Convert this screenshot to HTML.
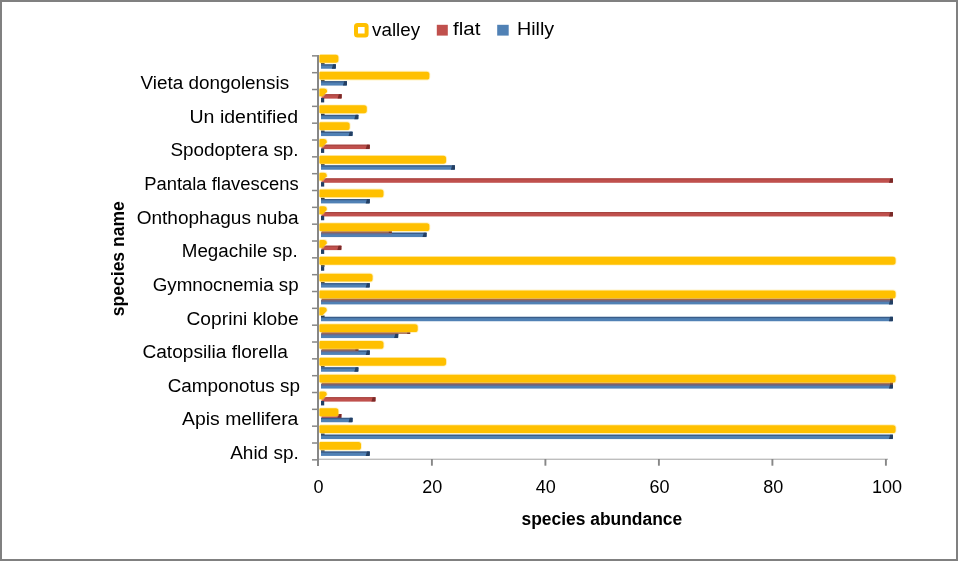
<!DOCTYPE html>
<html><head><meta charset="utf-8"><style>
html,body{margin:0;padding:0;background:#fff;}
#c{position:relative;width:958px;height:561px;overflow:hidden;background:#fff;}
svg{position:absolute;left:0;top:0;will-change:transform;}
.lab{font-family:"Liberation Sans",sans-serif;font-size:18px;fill:#000;}
.ttl{font-family:"Liberation Sans",sans-serif;font-size:17.6px;font-weight:bold;fill:#000;}
</style></head><body><div id="c">
<svg width="958" height="561" viewBox="0 0 958 561">
<rect x="0" y="0" width="958" height="561" fill="#fff"/>
<rect x="312" y="55.1" width="6" height="1.5" fill="#878787"/>
<rect x="312" y="71.93" width="6" height="1.5" fill="#878787"/>
<rect x="312" y="88.77" width="6" height="1.5" fill="#878787"/>
<rect x="312" y="105.6" width="6" height="1.5" fill="#878787"/>
<rect x="312" y="122.43" width="6" height="1.5" fill="#878787"/>
<rect x="312" y="139.26" width="6" height="1.5" fill="#878787"/>
<rect x="312" y="156.1" width="6" height="1.5" fill="#878787"/>
<rect x="312" y="172.93" width="6" height="1.5" fill="#878787"/>
<rect x="312" y="189.76" width="6" height="1.5" fill="#878787"/>
<rect x="312" y="206.6" width="6" height="1.5" fill="#878787"/>
<rect x="312" y="223.43" width="6" height="1.5" fill="#878787"/>
<rect x="312" y="240.26" width="6" height="1.5" fill="#878787"/>
<rect x="312" y="257.1" width="6" height="1.5" fill="#878787"/>
<rect x="312" y="273.93" width="6" height="1.5" fill="#878787"/>
<rect x="312" y="290.76" width="6" height="1.5" fill="#878787"/>
<rect x="312" y="307.59" width="6" height="1.5" fill="#878787"/>
<rect x="312" y="324.43" width="6" height="1.5" fill="#878787"/>
<rect x="312" y="341.26" width="6" height="1.5" fill="#878787"/>
<rect x="312" y="358.09" width="6" height="1.5" fill="#878787"/>
<rect x="312" y="374.93" width="6" height="1.5" fill="#878787"/>
<rect x="312" y="391.76" width="6" height="1.5" fill="#878787"/>
<rect x="312" y="408.59" width="6" height="1.5" fill="#878787"/>
<rect x="312" y="425.43" width="6" height="1.5" fill="#878787"/>
<rect x="312" y="442.26" width="6" height="1.5" fill="#878787"/>
<rect x="312" y="459.09" width="6" height="1.5" fill="#878787"/>
<rect x="321" y="63.05" width="3.6" height="1.6" fill="#2a2a2a"/>
<rect x="321" y="64.35" width="14.9" height="4.4" fill="#5081B5"/>
<rect x="321" y="64.35" width="14.9" height="1.3" fill="#3A5C88"/>
<path d="M333.1,64.35 L335.3,64.35 Q335.9,64.35 335.9,65.15 L335.9,67.75 Q335.9,68.75 334.9,68.75 L331.8,68.75 Z" fill="#233F63"/>
<path d="M320.9,53.95 L335.8,53.95 Q339.3,53.95 339.3,57.45 L339.3,60.05 Q339.3,63.55 335.8,63.55 L320.9,63.55 Q319.4,63.55 319.4,62.05 L319.4,55.45 Q319.4,53.95 320.9,53.95 Z" fill="#FFE27A" opacity="0.45"/>
<path d="M320.4,54.85 L335.8,54.85 Q338.4,54.85 338.4,57.45 L338.4,60.05 Q338.4,62.65 335.8,62.65 L320.4,62.65 Q319.4,62.65 319.4,61.65 L319.4,55.85 Q319.4,54.85 320.4,54.85 Z" fill="#FFC000"/>
<rect x="321" y="79.88" width="3.6" height="1.6" fill="#2a2a2a"/>
<rect x="321" y="81.18" width="26" height="4.4" fill="#5081B5"/>
<rect x="321" y="81.18" width="26" height="1.3" fill="#3A5C88"/>
<path d="M344.2,81.18 L346.4,81.18 Q347,81.18 347,81.98 L347,84.58 Q347,85.58 346,85.58 L342.9,85.58 Z" fill="#233F63"/>
<path d="M320.9,70.78 L426.8,70.78 Q430.3,70.78 430.3,74.28 L430.3,76.88 Q430.3,80.38 426.8,80.38 L320.9,80.38 Q319.4,80.38 319.4,78.88 L319.4,72.28 Q319.4,70.78 320.9,70.78 Z" fill="#FFE27A" opacity="0.45"/>
<path d="M320.4,71.68 L426.8,71.68 Q429.4,71.68 429.4,74.28 L429.4,76.88 Q429.4,79.48 426.8,79.48 L320.4,79.48 Q319.4,79.48 319.4,78.48 L319.4,72.68 Q319.4,71.68 320.4,71.68 Z" fill="#FFC000"/>
<rect x="321.5" y="94.22" width="20.2" height="4.4" fill="#C0504D"/>
<rect x="321.5" y="94.22" width="20.2" height="1.1" fill="#A6443F"/>
<path d="M338.9,94.22 L341.1,94.22 Q341.7,94.22 341.7,95.02 L341.7,97.62 Q341.7,98.62 340.7,98.62 L337.6,98.62 Z" fill="#7A2A28"/>
<rect x="321" y="98.02" width="3.2" height="4.4" fill="#233F63"/>
<path d="M319.13,88.62 Q319.13,87.62 320.9,87.62 L324,87.62 Q327.9,87.62 327.9,91.02 L327.9,92.12 L323.05,97.22 L319.13,97.22 Z" fill="#FFE27A" opacity="0.45"/>
<path d="M319.4,89.52 Q319.4,88.52 320.9,88.52 L324,88.52 Q327,88.52 327,91.02 L327,92.12 L322.6,96.32 L319.4,96.32 Z" fill="#FFC000"/>
<rect x="321" y="113.55" width="3.6" height="1.6" fill="#2a2a2a"/>
<rect x="321" y="114.85" width="37.4" height="4.4" fill="#5081B5"/>
<rect x="321" y="114.85" width="37.4" height="1.3" fill="#3A5C88"/>
<path d="M355.6,114.85 L357.8,114.85 Q358.4,114.85 358.4,115.65 L358.4,118.25 Q358.4,119.25 357.4,119.25 L354.3,119.25 Z" fill="#233F63"/>
<path d="M320.9,104.45 L364.2,104.45 Q367.7,104.45 367.7,107.95 L367.7,110.55 Q367.7,114.05 364.2,114.05 L320.9,114.05 Q319.4,114.05 319.4,112.55 L319.4,105.95 Q319.4,104.45 320.9,104.45 Z" fill="#FFE27A" opacity="0.45"/>
<path d="M320.4,105.35 L364.2,105.35 Q366.8,105.35 366.8,107.95 L366.8,110.55 Q366.8,113.15 364.2,113.15 L320.4,113.15 Q319.4,113.15 319.4,112.15 L319.4,106.35 Q319.4,105.35 320.4,105.35 Z" fill="#FFC000"/>
<rect x="321" y="130.38" width="3.6" height="1.6" fill="#2a2a2a"/>
<rect x="321" y="131.68" width="31.6" height="4.4" fill="#5081B5"/>
<rect x="321" y="131.68" width="31.6" height="1.3" fill="#3A5C88"/>
<path d="M349.8,131.68 L352,131.68 Q352.6,131.68 352.6,132.48 L352.6,135.08 Q352.6,136.08 351.6,136.08 L348.5,136.08 Z" fill="#233F63"/>
<path d="M320.9,121.28 L347.1,121.28 Q350.6,121.28 350.6,124.78 L350.6,127.38 Q350.6,130.88 347.1,130.88 L320.9,130.88 Q319.4,130.88 319.4,129.38 L319.4,122.78 Q319.4,121.28 320.9,121.28 Z" fill="#FFE27A" opacity="0.45"/>
<path d="M320.4,122.18 L347.1,122.18 Q349.7,122.18 349.7,124.78 L349.7,127.38 Q349.7,129.98 347.1,129.98 L320.4,129.98 Q319.4,129.98 319.4,128.98 L319.4,123.18 Q319.4,122.18 320.4,122.18 Z" fill="#FFC000"/>
<rect x="321.5" y="144.71" width="48.3" height="4.4" fill="#C0504D"/>
<rect x="321.5" y="144.71" width="48.3" height="1.1" fill="#A6443F"/>
<path d="M367,144.71 L369.2,144.71 Q369.8,144.71 369.8,145.51 L369.8,148.11 Q369.8,149.11 368.8,149.11 L365.7,149.11 Z" fill="#7A2A28"/>
<rect x="321" y="148.51" width="3.2" height="4.4" fill="#233F63"/>
<path d="M319.13,139.11 Q319.13,138.11 320.9,138.11 L323.7,138.11 Q327.6,138.11 327.6,141.51 L327.6,142.61 L323.05,147.72 L319.13,147.72 Z" fill="#FFE27A" opacity="0.45"/>
<path d="M319.4,140.01 Q319.4,139.01 320.9,139.01 L323.7,139.01 Q326.7,139.01 326.7,141.51 L326.7,142.61 L322.6,146.81 L319.4,146.81 Z" fill="#FFC000"/>
<rect x="321" y="164.05" width="3.6" height="1.6" fill="#2a2a2a"/>
<rect x="321" y="165.35" width="134" height="4.4" fill="#5081B5"/>
<rect x="321" y="165.35" width="134" height="1.3" fill="#3A5C88"/>
<path d="M452.2,165.35 L454.4,165.35 Q455,165.35 455,166.15 L455,168.75 Q455,169.75 454,169.75 L450.9,169.75 Z" fill="#233F63"/>
<path d="M320.9,154.95 L443.5,154.95 Q447,154.95 447,158.45 L447,161.05 Q447,164.55 443.5,164.55 L320.9,164.55 Q319.4,164.55 319.4,163.05 L319.4,156.45 Q319.4,154.95 320.9,154.95 Z" fill="#FFE27A" opacity="0.45"/>
<path d="M320.4,155.85 L443.5,155.85 Q446.1,155.85 446.1,158.45 L446.1,161.05 Q446.1,163.65 443.5,163.65 L320.4,163.65 Q319.4,163.65 319.4,162.65 L319.4,156.85 Q319.4,155.85 320.4,155.85 Z" fill="#FFC000"/>
<rect x="321.5" y="178.38" width="571.5" height="4.4" fill="#C0504D"/>
<rect x="321.5" y="178.38" width="571.5" height="1.1" fill="#A6443F"/>
<path d="M890.2,178.38 L892.4,178.38 Q893,178.38 893,179.18 L893,181.78 Q893,182.78 892,182.78 L888.9,182.78 Z" fill="#7A2A28"/>
<rect x="321" y="182.18" width="3.2" height="4.4" fill="#233F63"/>
<path d="M319.13,172.78 Q319.13,171.78 320.9,171.78 L323.7,171.78 Q327.6,171.78 327.6,175.18 L327.6,176.28 L323.05,181.38 L319.13,181.38 Z" fill="#FFE27A" opacity="0.45"/>
<path d="M319.4,173.68 Q319.4,172.68 320.9,172.68 L323.7,172.68 Q326.7,172.68 326.7,175.18 L326.7,176.28 L322.6,180.48 L319.4,180.48 Z" fill="#FFC000"/>
<rect x="321" y="197.71" width="3.6" height="1.6" fill="#2a2a2a"/>
<rect x="321" y="199.01" width="48.8" height="4.4" fill="#5081B5"/>
<rect x="321" y="199.01" width="48.8" height="1.3" fill="#3A5C88"/>
<path d="M367,199.01 L369.2,199.01 Q369.8,199.01 369.8,199.81 L369.8,202.41 Q369.8,203.41 368.8,203.41 L365.7,203.41 Z" fill="#233F63"/>
<path d="M320.9,188.61 L380.9,188.61 Q384.4,188.61 384.4,192.11 L384.4,194.71 Q384.4,198.21 380.9,198.21 L320.9,198.21 Q319.4,198.21 319.4,196.71 L319.4,190.11 Q319.4,188.61 320.9,188.61 Z" fill="#FFE27A" opacity="0.45"/>
<path d="M320.4,189.51 L380.9,189.51 Q383.5,189.51 383.5,192.11 L383.5,194.71 Q383.5,197.31 380.9,197.31 L320.4,197.31 Q319.4,197.31 319.4,196.31 L319.4,190.51 Q319.4,189.51 320.4,189.51 Z" fill="#FFC000"/>
<rect x="321.5" y="212.05" width="571.5" height="4.4" fill="#C0504D"/>
<rect x="321.5" y="212.05" width="571.5" height="1.1" fill="#A6443F"/>
<path d="M890.2,212.05 L892.4,212.05 Q893,212.05 893,212.85 L893,215.45 Q893,216.45 892,216.45 L888.9,216.45 Z" fill="#7A2A28"/>
<rect x="321" y="215.85" width="3.2" height="4.4" fill="#233F63"/>
<path d="M319.13,206.45 Q319.13,205.45 320.9,205.45 L323.7,205.45 Q327.6,205.45 327.6,208.85 L327.6,209.95 L323.05,215.05 L319.13,215.05 Z" fill="#FFE27A" opacity="0.45"/>
<path d="M319.4,207.35 Q319.4,206.35 320.9,206.35 L323.7,206.35 Q326.7,206.35 326.7,208.85 L326.7,209.95 L322.6,214.15 L319.4,214.15 Z" fill="#FFC000"/>
<rect x="321" y="232.68" width="105.6" height="4.4" fill="#5081B5"/>
<rect x="321" y="232.68" width="105.6" height="1.3" fill="#3A5C88"/>
<rect x="321" y="232.68" width="70.8" height="1.7" fill="#6C6A8A"/>
<path d="M423.8,232.68 L426,232.68 Q426.6,232.68 426.6,233.48 L426.6,236.08 Q426.6,237.08 425.6,237.08 L422.5,237.08 Z" fill="#233F63"/>
<rect x="321.5" y="230.98" width="70.3" height="1.8" fill="#9E5A3A"/>
<rect x="388.8" y="230.98" width="3" height="1.8" fill="#6A2C22"/>
<path d="M320.9,222.28 L426.8,222.28 Q430.3,222.28 430.3,225.78 L430.3,228.38 Q430.3,231.88 426.8,231.88 L320.9,231.88 Q319.4,231.88 319.4,230.38 L319.4,223.78 Q319.4,222.28 320.9,222.28 Z" fill="#FFE27A" opacity="0.45"/>
<path d="M320.4,223.18 L426.8,223.18 Q429.4,223.18 429.4,225.78 L429.4,228.38 Q429.4,230.98 426.8,230.98 L320.4,230.98 Q319.4,230.98 319.4,229.98 L319.4,224.18 Q319.4,223.18 320.4,223.18 Z" fill="#FFC000"/>
<rect x="321.5" y="245.71" width="19.9" height="4.4" fill="#C0504D"/>
<rect x="321.5" y="245.71" width="19.9" height="1.1" fill="#A6443F"/>
<path d="M338.6,245.71 L340.8,245.71 Q341.4,245.71 341.4,246.51 L341.4,249.11 Q341.4,250.11 340.4,250.11 L337.3,250.11 Z" fill="#7A2A28"/>
<rect x="321" y="249.51" width="3.2" height="4.4" fill="#233F63"/>
<path d="M319.13,240.11 Q319.13,239.11 320.9,239.11 L323.7,239.11 Q327.6,239.11 327.6,242.51 L327.6,243.61 L323.05,248.71 L319.13,248.71 Z" fill="#FFE27A" opacity="0.45"/>
<path d="M319.4,241.01 Q319.4,240.01 320.9,240.01 L323.7,240.01 Q326.7,240.01 326.7,242.51 L326.7,243.61 L322.6,247.81 L319.4,247.81 Z" fill="#FFC000"/>
<rect x="321" y="265.05" width="3.6" height="1.6" fill="#2a2a2a"/>
<rect x="321" y="266.35" width="3.2" height="4.4" fill="#233F63"/>
<path d="M320.9,255.95 L893,255.95 Q896.5,255.95 896.5,259.45 L896.5,262.05 Q896.5,265.55 893,265.55 L320.9,265.55 Q319.4,265.55 319.4,264.05 L319.4,257.45 Q319.4,255.95 320.9,255.95 Z" fill="#FFE27A" opacity="0.45"/>
<path d="M320.4,256.85 L893,256.85 Q895.6,256.85 895.6,259.45 L895.6,262.05 Q895.6,264.65 893,264.65 L320.4,264.65 Q319.4,264.65 319.4,263.65 L319.4,257.85 Q319.4,256.85 320.4,256.85 Z" fill="#FFC000"/>
<rect x="321" y="281.88" width="3.6" height="1.6" fill="#2a2a2a"/>
<rect x="321" y="283.18" width="48.8" height="4.4" fill="#5081B5"/>
<rect x="321" y="283.18" width="48.8" height="1.3" fill="#3A5C88"/>
<path d="M367,283.18 L369.2,283.18 Q369.8,283.18 369.8,283.98 L369.8,286.58 Q369.8,287.58 368.8,287.58 L365.7,287.58 Z" fill="#233F63"/>
<path d="M320.9,272.78 L370,272.78 Q373.5,272.78 373.5,276.28 L373.5,278.88 Q373.5,282.38 370,282.38 L320.9,282.38 Q319.4,282.38 319.4,280.88 L319.4,274.28 Q319.4,272.78 320.9,272.78 Z" fill="#FFE27A" opacity="0.45"/>
<path d="M320.4,273.68 L370,273.68 Q372.6,273.68 372.6,276.28 L372.6,278.88 Q372.6,281.48 370,281.48 L320.4,281.48 Q319.4,281.48 319.4,280.48 L319.4,274.68 Q319.4,273.68 320.4,273.68 Z" fill="#FFC000"/>
<rect x="321" y="300.01" width="572" height="4.4" fill="#5081B5"/>
<rect x="321" y="300.01" width="572" height="1.3" fill="#3A5C88"/>
<rect x="321" y="300.01" width="572" height="1.7" fill="#6C6A8A"/>
<path d="M890.2,300.01 L892.4,300.01 Q893,300.01 893,300.81 L893,303.41 Q893,304.41 892,304.41 L888.9,304.41 Z" fill="#233F63"/>
<rect x="321.5" y="298.31" width="571.5" height="1.8" fill="#9E5A3A"/>
<rect x="890" y="298.31" width="3" height="1.8" fill="#6A2C22"/>
<path d="M320.9,289.61 L893,289.61 Q896.5,289.61 896.5,293.11 L896.5,295.71 Q896.5,299.21 893,299.21 L320.9,299.21 Q319.4,299.21 319.4,297.71 L319.4,291.11 Q319.4,289.61 320.9,289.61 Z" fill="#FFE27A" opacity="0.45"/>
<path d="M320.4,290.51 L893,290.51 Q895.6,290.51 895.6,293.11 L895.6,295.71 Q895.6,298.31 893,298.31 L320.4,298.31 Q319.4,298.31 319.4,297.31 L319.4,291.51 Q319.4,290.51 320.4,290.51 Z" fill="#FFC000"/>
<rect x="321" y="315.54" width="3.6" height="1.6" fill="#2a2a2a"/>
<rect x="321" y="316.84" width="572" height="4.4" fill="#5081B5"/>
<rect x="321" y="316.84" width="572" height="1.3" fill="#3A5C88"/>
<path d="M890.2,316.84 L892.4,316.84 Q893,316.84 893,317.64 L893,320.24 Q893,321.24 892,321.24 L888.9,321.24 Z" fill="#233F63"/>
<path d="M319.13,307.44 Q319.13,306.44 320.9,306.44 L323.7,306.44 Q327.6,306.44 327.6,309.84 L327.6,310.94 L323.05,316.04 L319.13,316.04 Z" fill="#FFE27A" opacity="0.45"/>
<path d="M319.4,308.34 Q319.4,307.34 320.9,307.34 L323.7,307.34 Q326.7,307.34 326.7,309.84 L326.7,310.94 L322.6,315.14 L319.4,315.14 Z" fill="#FFC000"/>
<rect x="321" y="333.68" width="77.2" height="4.4" fill="#5081B5"/>
<rect x="321" y="333.68" width="77.2" height="1.3" fill="#3A5C88"/>
<rect x="321" y="333.68" width="77.2" height="1.7" fill="#6C6A8A"/>
<path d="M395.4,333.68 L397.6,333.68 Q398.2,333.68 398.2,334.48 L398.2,337.08 Q398.2,338.08 397.2,338.08 L394.1,338.08 Z" fill="#233F63"/>
<rect x="321.5" y="331.98" width="88.7" height="1.8" fill="#9E5A3A"/>
<rect x="407.2" y="331.98" width="3" height="1.8" fill="#6A2C22"/>
<path d="M320.9,323.28 L415.1,323.28 Q418.6,323.28 418.6,326.78 L418.6,329.38 Q418.6,332.88 415.1,332.88 L320.9,332.88 Q319.4,332.88 319.4,331.38 L319.4,324.78 Q319.4,323.28 320.9,323.28 Z" fill="#FFE27A" opacity="0.45"/>
<path d="M320.4,324.18 L415.1,324.18 Q417.7,324.18 417.7,326.78 L417.7,329.38 Q417.7,331.98 415.1,331.98 L320.4,331.98 Q319.4,331.98 319.4,330.98 L319.4,325.18 Q319.4,324.18 320.4,324.18 Z" fill="#FFC000"/>
<rect x="321" y="350.51" width="48.8" height="4.4" fill="#5081B5"/>
<rect x="321" y="350.51" width="48.8" height="1.3" fill="#3A5C88"/>
<rect x="321" y="350.51" width="37.4" height="1.7" fill="#6C6A8A"/>
<path d="M367,350.51 L369.2,350.51 Q369.8,350.51 369.8,351.31 L369.8,353.91 Q369.8,354.91 368.8,354.91 L365.7,354.91 Z" fill="#233F63"/>
<rect x="321.5" y="348.81" width="36.9" height="1.8" fill="#9E5A3A"/>
<rect x="355.4" y="348.81" width="3" height="1.8" fill="#6A2C22"/>
<path d="M320.9,340.11 L380.9,340.11 Q384.4,340.11 384.4,343.61 L384.4,346.21 Q384.4,349.71 380.9,349.71 L320.9,349.71 Q319.4,349.71 319.4,348.21 L319.4,341.61 Q319.4,340.11 320.9,340.11 Z" fill="#FFE27A" opacity="0.45"/>
<path d="M320.4,341.01 L380.9,341.01 Q383.5,341.01 383.5,343.61 L383.5,346.21 Q383.5,348.81 380.9,348.81 L320.4,348.81 Q319.4,348.81 319.4,347.81 L319.4,342.01 Q319.4,341.01 320.4,341.01 Z" fill="#FFC000"/>
<rect x="321" y="366.04" width="3.6" height="1.6" fill="#2a2a2a"/>
<rect x="321" y="367.34" width="37.4" height="4.4" fill="#5081B5"/>
<rect x="321" y="367.34" width="37.4" height="1.3" fill="#3A5C88"/>
<path d="M355.6,367.34 L357.8,367.34 Q358.4,367.34 358.4,368.14 L358.4,370.74 Q358.4,371.74 357.4,371.74 L354.3,371.74 Z" fill="#233F63"/>
<path d="M320.9,356.94 L443.5,356.94 Q447,356.94 447,360.44 L447,363.04 Q447,366.54 443.5,366.54 L320.9,366.54 Q319.4,366.54 319.4,365.04 L319.4,358.44 Q319.4,356.94 320.9,356.94 Z" fill="#FFE27A" opacity="0.45"/>
<path d="M320.4,357.84 L443.5,357.84 Q446.1,357.84 446.1,360.44 L446.1,363.04 Q446.1,365.64 443.5,365.64 L320.4,365.64 Q319.4,365.64 319.4,364.64 L319.4,358.84 Q319.4,357.84 320.4,357.84 Z" fill="#FFC000"/>
<rect x="321" y="384.18" width="572" height="4.4" fill="#5081B5"/>
<rect x="321" y="384.18" width="572" height="1.3" fill="#3A5C88"/>
<rect x="321" y="384.18" width="572" height="1.7" fill="#6C6A8A"/>
<path d="M890.2,384.18 L892.4,384.18 Q893,384.18 893,384.98 L893,387.58 Q893,388.58 892,388.58 L888.9,388.58 Z" fill="#233F63"/>
<rect x="321.5" y="382.48" width="571.5" height="1.8" fill="#9E5A3A"/>
<rect x="890" y="382.48" width="3" height="1.8" fill="#6A2C22"/>
<path d="M320.9,373.78 L893,373.78 Q896.5,373.78 896.5,377.28 L896.5,379.88 Q896.5,383.38 893,383.38 L320.9,383.38 Q319.4,383.38 319.4,381.88 L319.4,375.28 Q319.4,373.78 320.9,373.78 Z" fill="#FFE27A" opacity="0.45"/>
<path d="M320.4,374.68 L893,374.68 Q895.6,374.68 895.6,377.28 L895.6,379.88 Q895.6,382.48 893,382.48 L320.4,382.48 Q319.4,382.48 319.4,381.48 L319.4,375.68 Q319.4,374.68 320.4,374.68 Z" fill="#FFC000"/>
<rect x="321.5" y="397.21" width="54" height="4.4" fill="#C0504D"/>
<rect x="321.5" y="397.21" width="54" height="1.1" fill="#A6443F"/>
<path d="M372.7,397.21 L374.9,397.21 Q375.5,397.21 375.5,398.01 L375.5,400.61 Q375.5,401.61 374.5,401.61 L371.4,401.61 Z" fill="#7A2A28"/>
<rect x="321" y="401.01" width="3.2" height="4.4" fill="#233F63"/>
<path d="M319.13,391.61 Q319.13,390.61 320.9,390.61 L323.7,390.61 Q327.6,390.61 327.6,394.01 L327.6,395.11 L323.05,400.21 L319.13,400.21 Z" fill="#FFE27A" opacity="0.45"/>
<path d="M319.4,392.51 Q319.4,391.51 320.9,391.51 L323.7,391.51 Q326.7,391.51 326.7,394.01 L326.7,395.11 L322.6,399.31 L319.4,399.31 Z" fill="#FFC000"/>
<rect x="321.5" y="414.04" width="19.9" height="4.4" fill="#C0504D"/>
<rect x="321.5" y="414.04" width="19.9" height="1.1" fill="#A6443F"/>
<path d="M338.6,414.04 L340.8,414.04 Q341.4,414.04 341.4,414.84 L341.4,417.44 Q341.4,418.44 340.4,418.44 L337.3,418.44 Z" fill="#7A2A28"/>
<rect x="321" y="417.84" width="31.6" height="4.4" fill="#5081B5"/>
<rect x="321" y="417.84" width="31.6" height="1.3" fill="#3A5C88"/>
<path d="M349.8,417.84 L352,417.84 Q352.6,417.84 352.6,418.64 L352.6,421.24 Q352.6,422.24 351.6,422.24 L348.5,422.24 Z" fill="#233F63"/>
<path d="M320.9,407.44 L335.8,407.44 Q339.3,407.44 339.3,410.94 L339.3,413.54 Q339.3,417.04 335.8,417.04 L320.9,417.04 Q319.4,417.04 319.4,415.54 L319.4,408.94 Q319.4,407.44 320.9,407.44 Z" fill="#FFE27A" opacity="0.45"/>
<path d="M320.4,408.34 L335.8,408.34 Q338.4,408.34 338.4,410.94 L338.4,413.54 Q338.4,416.14 335.8,416.14 L320.4,416.14 Q319.4,416.14 319.4,415.14 L319.4,409.34 Q319.4,408.34 320.4,408.34 Z" fill="#FFC000"/>
<rect x="321" y="433.38" width="3.6" height="1.6" fill="#2a2a2a"/>
<rect x="321" y="434.68" width="572" height="4.4" fill="#5081B5"/>
<rect x="321" y="434.68" width="572" height="1.3" fill="#3A5C88"/>
<path d="M890.2,434.68 L892.4,434.68 Q893,434.68 893,435.48 L893,438.08 Q893,439.08 892,439.08 L888.9,439.08 Z" fill="#233F63"/>
<path d="M320.9,424.28 L893,424.28 Q896.5,424.28 896.5,427.78 L896.5,430.38 Q896.5,433.88 893,433.88 L320.9,433.88 Q319.4,433.88 319.4,432.38 L319.4,425.78 Q319.4,424.28 320.9,424.28 Z" fill="#FFE27A" opacity="0.45"/>
<path d="M320.4,425.18 L893,425.18 Q895.6,425.18 895.6,427.78 L895.6,430.38 Q895.6,432.98 893,432.98 L320.4,432.98 Q319.4,432.98 319.4,431.98 L319.4,426.18 Q319.4,425.18 320.4,425.18 Z" fill="#FFC000"/>
<rect x="321" y="450.21" width="3.6" height="1.6" fill="#2a2a2a"/>
<rect x="321" y="451.51" width="48.8" height="4.4" fill="#5081B5"/>
<rect x="321" y="451.51" width="48.8" height="1.3" fill="#3A5C88"/>
<path d="M367,451.51 L369.2,451.51 Q369.8,451.51 369.8,452.31 L369.8,454.91 Q369.8,455.91 368.8,455.91 L365.7,455.91 Z" fill="#233F63"/>
<path d="M320.9,441.11 L358.4,441.11 Q361.9,441.11 361.9,444.61 L361.9,447.21 Q361.9,450.71 358.4,450.71 L320.9,450.71 Q319.4,450.71 319.4,449.21 L319.4,442.61 Q319.4,441.11 320.9,441.11 Z" fill="#FFE27A" opacity="0.45"/>
<path d="M320.4,442.01 L358.4,442.01 Q361,442.01 361,444.61 L361,447.21 Q361,449.81 358.4,449.81 L320.4,449.81 Q319.4,449.81 319.4,448.81 L319.4,443.01 Q319.4,442.01 320.4,442.01 Z" fill="#FFC000"/>
<rect x="319" y="458.6" width="569" height="1.4" fill="#BEBEBE"/>
<rect x="317" y="55" width="2" height="411" fill="#878787"/>
<rect x="430.95" y="459" width="1.9" height="6.7" fill="#878787"/>
<rect x="544.45" y="459" width="1.9" height="6.7" fill="#878787"/>
<rect x="657.95" y="459" width="1.9" height="6.7" fill="#878787"/>
<rect x="771.45" y="459" width="1.9" height="6.7" fill="#878787"/>
<rect x="884.95" y="459" width="1.9" height="6.7" fill="#878787"/>
<text x="140.5" y="89.2" textLength="148.7" lengthAdjust="spacingAndGlyphs" class="lab">Vieta dongolensis</text>
<text x="189.5" y="122.82" textLength="108.6" lengthAdjust="spacingAndGlyphs" class="lab">Un identified</text>
<text x="170.5" y="156.44" textLength="128.1" lengthAdjust="spacingAndGlyphs" class="lab">Spodoptera sp.</text>
<text x="144.2" y="190.06" textLength="154.4" lengthAdjust="spacingAndGlyphs" class="lab">Pantala flavescens</text>
<text x="136.7" y="223.68" textLength="161.9" lengthAdjust="spacingAndGlyphs" class="lab">Onthophagus nuba</text>
<text x="181.8" y="257.3" textLength="115.8" lengthAdjust="spacingAndGlyphs" class="lab">Megachile sp.</text>
<text x="152.7" y="290.92" textLength="145.9" lengthAdjust="spacingAndGlyphs" class="lab">Gymnocnemia sp</text>
<text x="186.5" y="324.54" textLength="112.1" lengthAdjust="spacingAndGlyphs" class="lab">Coprini klobe</text>
<text x="142.4" y="358.16" textLength="145.6" lengthAdjust="spacingAndGlyphs" class="lab">Catopsilia florella</text>
<text x="167.7" y="391.78" textLength="132.3" lengthAdjust="spacingAndGlyphs" class="lab">Camponotus sp</text>
<text x="182.1" y="425.4" textLength="116.3" lengthAdjust="spacingAndGlyphs" class="lab">Apis mellifera</text>
<text x="230.2" y="459.02" textLength="68.6" lengthAdjust="spacingAndGlyphs" class="lab">Ahid sp.</text>
<text x="318.5" y="492.8" text-anchor="middle" class="lab">0</text>
<text x="432.18" y="492.8" text-anchor="middle" class="lab">20</text>
<text x="545.86" y="492.8" text-anchor="middle" class="lab">40</text>
<text x="659.54" y="492.8" text-anchor="middle" class="lab">60</text>
<text x="773.22" y="492.8" text-anchor="middle" class="lab">80</text>
<text x="886.9" y="492.8" text-anchor="middle" class="lab">100</text>
<text x="521.5" y="524.8" textLength="160.7" lengthAdjust="spacingAndGlyphs" class="ttl">species abundance</text>
<text transform="translate(124.4,316.2) rotate(-90)" x="0" y="0" textLength="115" lengthAdjust="spacingAndGlyphs" class="ttl">species name</text>
<rect x="356" y="24.9" width="10.6" height="10.6" rx="1.5" fill="none" stroke="#FFC000" stroke-width="4"/>
<text x="372.1" y="35.5" textLength="48" lengthAdjust="spacingAndGlyphs" class="lab">valley</text>
<rect x="436.8" y="24.8" width="11" height="10.8" fill="#C0504D"/>
<text x="453.1" y="35.4" textLength="27.4" lengthAdjust="spacingAndGlyphs" class="lab">flat</text>
<rect x="497.2" y="24.8" width="11.5" height="10.8" fill="#5081B5"/>
<text x="517" y="35.4" textLength="37.2" lengthAdjust="spacingAndGlyphs" class="lab">Hilly</text>
<rect x="1" y="1" width="956" height="559" fill="none" stroke="#808080" stroke-width="2"/>
</svg></div></body></html>
